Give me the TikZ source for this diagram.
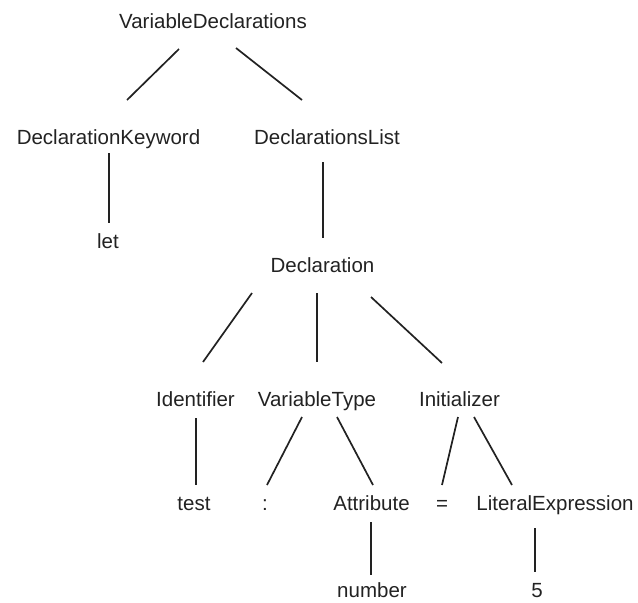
\documentclass[tikz,border=0pt]{standalone}
\usepackage{fontspec}
\setmainfont{Liberation Sans}
\usetikzlibrary{calc}
\definecolor{ink}{HTML}{222222}
\tikzset{
  lbl/.style={anchor=base, inner sep=0pt, text=ink, font=\fontsize{20.5}{24}\selectfont},
  edge/.style={draw=ink, line width=1.7pt}
}
\begin{document}
\begin{tikzpicture}[x=1pt,y=-1pt]
\useasboundingbox (0,0) rectangle (638,603);
% tree labels, placed by baseline
\node[lbl] (vd)    at (213,28)    {VariableDeclarations};
\node[lbl] (dk)    at (108.5,144) {DeclarationKeyword};
\node[lbl] (dl)    at (327,144)   {DeclarationsList};
\node[lbl] (let)   at (108,248)   {let};
\node[lbl] (decl)  at (322.5,272) {Declaration};
\node[lbl] (id)    at (195.5,406) {Identifier};
\node[lbl] (vt)    at (317,406)   {VariableType};
\node[lbl] (init)  at (459.5,406) {Initializer};
\node[lbl] (test)  at (194,510)   {test};
\node[lbl] (colon) at (265,510)   {:};
\node[lbl] (attr)  at (371.5,510) {Attribute};
\node[lbl] (eq)    at (442,510)   {=};
\node[lbl] (le)    at (555,510)   {LiteralExpression};
\node[lbl] (num)   at (372,597)   {number};
\node[lbl] (five)  at (537,597)   {5};
% branches
\draw[edge] ($(vd.base)+(-34,21)$)    -- ($(dk.base)+(18.5,-44)$);
\draw[edge] ($(vd.base)+(23,20)$)     -- ($(dl.base)+(-25,-44)$);
\draw[edge] ($(dk.base)+(0.5,9)$)     -- ($(let.base)+(1,-25)$);
\draw[edge] ($(dl.base)+(-4,18)$)     -- ($(decl.base)+(0.5,-34)$);
\draw[edge] ($(decl.base)+(-70.5,21)$) -- ($(id.base)+(7.5,-44)$);
\draw[edge] ($(decl.base)+(-5.5,21)$) -- ($(vt.base)+(0,-44)$);
\draw[edge] ($(decl.base)+(48.5,25)$) -- ($(init.base)+(-17.5,-43)$);
\draw[edge] ($(id.base)+(0.5,12)$)    -- ($(test.base)+(2,-25)$);
\draw[edge] ($(vt.base)+(-15,11)$)    -- ($(colon.base)+(2,-25)$);
\draw[edge] ($(vt.base)+(20,11)$)     -- ($(attr.base)+(1.5,-25)$);
\draw[edge] ($(init.base)+(-1.5,11)$) -- ($(eq.base)+(0,-25)$);
\draw[edge] ($(init.base)+(14.5,11)$) -- ($(le.base)+(-43,-25)$);
\draw[edge] ($(attr.base)+(-0.5,12)$) -- ($(num.base)+(-1,-22)$);
\draw[edge] ($(le.base)+(-20,18)$)    -- ($(five.base)+(-2,-25)$);
\end{tikzpicture}
\end{document}
